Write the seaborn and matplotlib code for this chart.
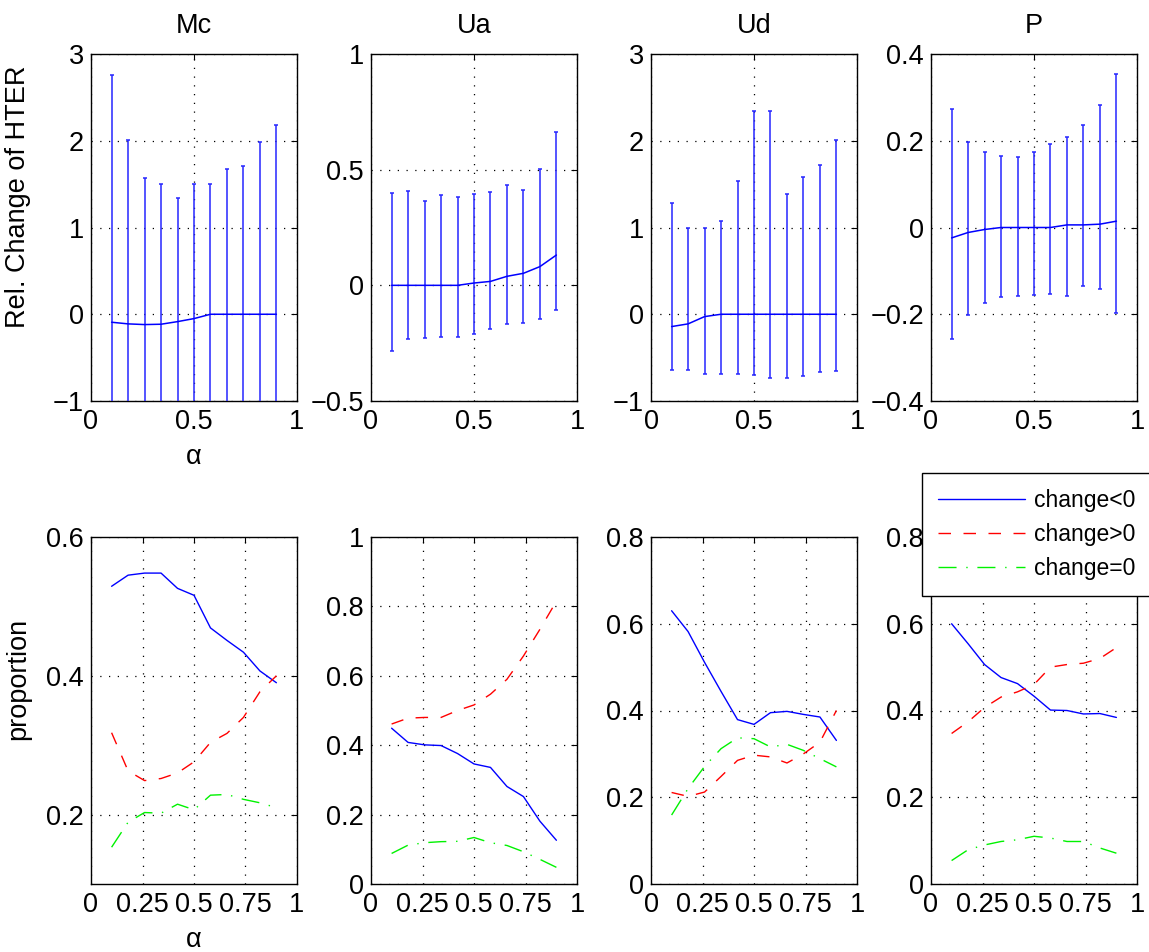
import numpy as np
import pandas as pd
import matplotlib
matplotlib.use("Agg")
import matplotlib.pyplot as plt
from matplotlib.ticker import FixedLocator, FuncFormatter
from matplotlib.lines import Line2D
import seaborn as sns

# ---------------------------------------------------------------- data
alpha = [0.10, 0.18, 0.26, 0.34, 0.42, 0.50, 0.58, 0.66, 0.74, 0.82, 0.90]
measures = ["Mc", "Ua", "Ud", "P"]

# relative change of HTER: central value with lower / upper bounds
mc_mid = [-0.092, -0.111, -0.119, -0.115, -0.085, -0.050, 0.0, 0.0, 0.0, 0.0, 0.0]
mc_hi = [2.76, 2.01, 1.57, 1.50, 1.34, 1.50, 1.50, 1.67, 1.71, 1.98, 2.18]
mc_lo = [-1.20, -1.20, -1.20, -1.20, -1.20, -1.20, -1.20, -1.20, -1.20, -1.20, -1.20]

ua_mid = [0.0, 0.0, 0.0, 0.0, 0.0, 0.010, 0.017, 0.039, 0.052, 0.081, 0.131]
ua_hi = [0.400, 0.406, 0.365, 0.389, 0.380, 0.396, 0.405, 0.432, 0.410, 0.503, 0.663]
ua_lo = [-0.284, -0.232, -0.228, -0.222, -0.222, -0.212, -0.187, -0.166, -0.163, -0.146, -0.108]

ud_mid = [-0.142, -0.111, -0.027, 0.0, 0.0, 0.0, 0.0, 0.0, 0.0, 0.0, 0.0]
ud_hi = [1.287, 0.999, 1.000, 1.080, 1.540, 2.340, 2.340, 1.387, 1.580, 1.718, 2.006]
ud_lo = [-0.638, -0.646, -0.692, -0.692, -0.692, -0.700, -0.730, -0.730, -0.715, -0.669, -0.657]

p_mid = [-0.024, -0.0115, -0.0046, 0.0, 0.0, 0.0, 0.0, 0.006, 0.006, 0.0077, 0.0146]
p_hi = [0.274, 0.198, 0.174, 0.164, 0.163, 0.173, 0.192, 0.208, 0.237, 0.282, 0.353]
p_lo = [-0.256, -0.202, -0.174, -0.161, -0.158, -0.155, -0.154, -0.157, -0.136, -0.141, -0.196]

# proportion of samples whose HTER decreased / increased / stayed the same
mc_neg = [0.529, 0.545, 0.548, 0.548, 0.526, 0.516, 0.469, 0.451, 0.434, 0.407, 0.390]
mc_pos = [0.318, 0.263, 0.249, 0.252, 0.260, 0.276, 0.304, 0.317, 0.340, 0.377, 0.400]
mc_zero = [0.153, 0.189, 0.203, 0.202, 0.215, 0.207, 0.228, 0.229, 0.222, 0.217, 0.210]

ua_neg = [0.449, 0.408, 0.401, 0.399, 0.376, 0.346, 0.336, 0.281, 0.252, 0.181, 0.126]
ua_pos = [0.461, 0.478, 0.480, 0.480, 0.500, 0.516, 0.547, 0.590, 0.657, 0.734, 0.815]
ua_zero = [0.088, 0.112, 0.119, 0.122, 0.123, 0.134, 0.119, 0.111, 0.093, 0.071, 0.048]

ud_neg = [0.630, 0.582, 0.511, 0.444, 0.379, 0.368, 0.395, 0.398, 0.391, 0.385, 0.331]
ud_pos = [0.211, 0.202, 0.212, 0.248, 0.285, 0.297, 0.293, 0.279, 0.300, 0.327, 0.400]
ud_zero = [0.159, 0.220, 0.271, 0.312, 0.337, 0.335, 0.316, 0.322, 0.308, 0.289, 0.270]

p_neg = [0.600, 0.554, 0.506, 0.476, 0.462, 0.433, 0.401, 0.400, 0.392, 0.393, 0.384]
p_pos = [0.347, 0.374, 0.407, 0.431, 0.443, 0.460, 0.500, 0.506, 0.509, 0.520, 0.545]
p_zero = [0.054, 0.079, 0.090, 0.098, 0.102, 0.110, 0.106, 0.098, 0.098, 0.083, 0.071]

top_yticks = {
    "Mc": [-1, 0, 1, 2, 3],
    "Ua": [-0.5, 0, 0.5, 1],
    "Ud": [-1, 0, 1, 2, 3],
    "P": [-0.4, -0.2, 0, 0.2, 0.4],
}
bottom_yticks = {
    "Mc": [0.2, 0.4, 0.6],
    "Ua": [0, 0.2, 0.4, 0.6, 0.8, 1],
    "Ud": [0, 0.2, 0.4, 0.6, 0.8],
    "P": [0, 0.2, 0.4, 0.6, 0.8],
}
bottom_ylim = {"Mc": (0.1, 0.6), "Ua": (0, 1), "Ud": (0, 0.8), "P": (0, 0.8)}
top_xticks = [0, 0.5, 1]
bottom_xticks = [0, 0.25, 0.5, 0.75, 1]
series_labels = ["change<0", "change>0", "change=0"]

# ---------------------------------------------------------------- tables
rel_rows = []
for name, mid, lo, hi in [("Mc", mc_mid, mc_lo, mc_hi), ("Ua", ua_mid, ua_lo, ua_hi),
                          ("Ud", ud_mid, ud_lo, ud_hi), ("P", p_mid, p_lo, p_hi)]:
    for a, m, l, h in zip(alpha, mid, lo, hi):
        rel_rows.append({"measure": name, "alpha": a, "mid": m, "lo": l, "hi": h})
rel = pd.DataFrame(rel_rows)

prop_rows = []
for name, groups in [("Mc", (mc_neg, mc_pos, mc_zero)), ("Ua", (ua_neg, ua_pos, ua_zero)),
                     ("Ud", (ud_neg, ud_pos, ud_zero)), ("P", (p_neg, p_pos, p_zero))]:
    for lab, vals in zip(series_labels, groups):
        for a, v in zip(alpha, vals):
            prop_rows.append({"measure": name, "series": lab, "alpha": a, "value": v})
prop = pd.DataFrame(prop_rows)

# ---------------------------------------------------------------- style
sns.set_style("white")
plt.rcParams["font.family"] = ["Liberation Sans", "DejaVu Sans"]
plt.rcParams["axes.unicode_minus"] = True
for key in ("text.color", "axes.labelcolor", "xtick.color", "ytick.color", "axes.edgecolor"):
    plt.rcParams[key] = "black"

FS = 19.5
series_style = {
    "change<0": dict(color=(0, 0, 1), linestyle="-"),
    "change>0": dict(color=(1, 0, 0), linestyle=(0, (9, 9))),
    "change=0": dict(color=(0, 0.95, 0), linestyle=(0, (13, 7, 1, 7))),
}


def num_fmt(v, pos):
    return f"{v:g}".replace("-", "\u2212")


def style_axes(ax, xticks, yticks, ylim):
    ax.set_xlim(0, 1)
    ax.set_ylim(*ylim)
    ax.xaxis.set_major_locator(FixedLocator(xticks))
    ax.yaxis.set_major_locator(FixedLocator(yticks))
    ax.xaxis.set_major_formatter(FuncFormatter(num_fmt))
    ax.yaxis.set_major_formatter(FuncFormatter(num_fmt))
    ax.tick_params(axis="both", which="both", direction="in", length=4, width=0.8,
                   top=True, right=True, labelsize=FS, color="black",
                   labelcolor="black")
    ax.tick_params(axis="x", pad=6)
    ax.tick_params(axis="y", pad=5)
    ax.grid(True, color="black", linestyle=(0, (1, 6)), linewidth=0.9)
    for sp in ax.spines.values():
        sp.set_visible(True)
        sp.set_color("black")
        sp.set_linewidth(1.0)
    ax.set_xlabel("")
    ax.set_ylabel("")


fig = plt.figure(figsize=(11.49, 9.52), dpi=100)
W, H = 1149.0, 952.0
lefts = [91, 371, 651, 931]
aw, ah = 206, 347
top_ax = [fig.add_axes([l / W, 1 - 401 / H, aw / W, ah / H]) for l in lefts]
bot_ax = [fig.add_axes([l / W, 1 - 884 / H, aw / W, ah / H]) for l in lefts]

for ax, name in zip(top_ax, measures):
    d = rel[rel["measure"] == name]
    yerr = np.vstack([d["mid"] - d["lo"], d["hi"] - d["mid"]])
    ax.errorbar(d["alpha"], d["mid"], yerr=yerr, fmt="none", ecolor=(0.15, 0.15, 1),
                elinewidth=1.1, capsize=1.3, capthick=1.1, zorder=3)
    sns.lineplot(data=d, x="alpha", y="mid", ax=ax, color=(0, 0, 1), linewidth=1.1,
                 estimator=None, errorbar=None, sort=False, zorder=4)
    style_axes(ax, top_xticks, top_yticks[name],
               (top_yticks[name][0], top_yticks[name][-1]))
    ax.set_title(name, fontsize=FS, pad=15, color="black")

for ax, name in zip(bot_ax, measures):
    d = prop[prop["measure"] == name]
    for lab in series_labels:
        s = d[d["series"] == lab]
        sns.lineplot(data=s, x="alpha", y="value", ax=ax, linewidth=1.0,
                     estimator=None, errorbar=None, sort=False, label=lab,
                     **series_style[lab])
    if ax.get_legend() is not None:
        ax.get_legend().remove()
    style_axes(ax, bottom_xticks, bottom_yticks[name], bottom_ylim[name])

top_ax[0].set_ylabel("Rel. Change of HTER", fontsize=FS, color="black")
top_ax[0].yaxis.set_label_coords(-0.29, 0.59)
bot_ax[0].set_ylabel("proportion", fontsize=FS, color="black")
bot_ax[0].yaxis.set_label_coords(-0.29, 0.59)
for ax in (top_ax[0], bot_ax[0]):
    ax.set_xlabel("\u03b1", fontsize=FS, color="black")
    ax.xaxis.set_label_coords(0.5, -0.125)

handles = [Line2D([], [], linewidth=1.0, **series_style[lab]) for lab in series_labels]
leg = fig.legend(handles, series_labels, loc="upper left",
                 bbox_to_anchor=(922 / W, 1 - 473 / H), bbox_transform=fig.transFigure,
                 fontsize=16.5, frameon=True, fancybox=False, framealpha=1,
                 edgecolor="black", handlelength=3.8, handletextpad=0.4,
                 borderpad=0.7, labelspacing=0.48, borderaxespad=0)
leg.get_frame().set_linewidth(1.0)
for t in leg.get_texts():
    t.set_color("black")

fig.savefig("out.png", dpi=100, facecolor="white")
